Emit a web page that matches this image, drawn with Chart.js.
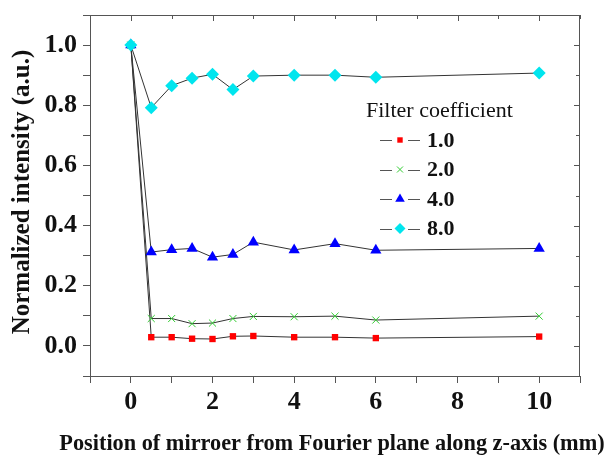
<!DOCTYPE html>
<html>
<head>
<meta charset="utf-8">
<script src="https://cdn.jsdelivr.net/npm/chart.js@4"></script>
<style>
  html, body { margin: 0; padding: 0; background: #fff; }
  #wrap { width: 611px; height: 457px; position: relative; }
</style>
</head>
<body>
<div id="wrap"><canvas id="chart" width="611" height="457"></canvas></div>
<script>
// positions along z (mm)
const positions = [0, 0.5, 1, 1.5, 2, 2.5, 3, 4, 5, 6, 10];

// normalized intensity per filter coefficient
const coef1 = [1.0, 0.029, 0.029, 0.024, 0.023, 0.032, 0.033, 0.029, 0.029, 0.026, 0.031];
const coef2 = [1.0, 0.091, 0.091, 0.074, 0.076, 0.091, 0.098, 0.097, 0.099, 0.086, 0.099];
const coef4 = [1.0, 0.312, 0.320, 0.324, 0.295, 0.304, 0.345, 0.319, 0.340, 0.318, 0.324];
const coef8 = [1.0, 0.792, 0.865, 0.890, 0.903, 0.852, 0.897, 0.900, 0.900, 0.893, 0.907];

const seriesLabels = ['1.0', '2.0', '4.0', '8.0'];
const legendTitle = 'Filter coefficient';

const xTitle = 'Position of mirroer from Fourier plane along z-axis (mm)';
const yTitle = 'Normalized intensity (a.u.)';

const serif = '"Liberation Serif", "Times New Roman", serif';

function pts(vals) {
    return positions.map((x, i) => ({ x: x, y: vals[i] }));
}

function makeSet(label, vals, color, style, radius, order) {
    return {
        label: label,
        data: pts(vals),
        order: order,
        borderColor: '#333',
        borderWidth: 1,
        backgroundColor: color,
        pointBackgroundColor: color,
        pointBorderColor: color,
        pointBorderWidth: style === 'crossRot' ? 1 : 0,
        pointStyle: style,
        pointRadius: radius,
        tension: 0,
        fill: false
    };
}

// frame with inward ticks on top/right, axis titles, legend inside the plot
const frameAndLegend = {
    id: 'frameAndLegend',
    afterDraw(chart) {
        const ctx = chart.ctx;
        const a = chart.chartArea;
        const xs = chart.scales.x, ys = chart.scales.y;
        ctx.save();
        ctx.strokeStyle = '#555';
        ctx.lineWidth = 1;
        ctx.strokeRect(a.left + 0.5, a.top + 0.5, a.right - a.left - 1, a.bottom - a.top);
        ctx.beginPath();
        xs.ticks.forEach(t => {
            const px = Math.round(xs.getPixelForValue(t.value)) + 0.5;
            const len = (t.value % 2 === 0) ? 6 : 4;
            ctx.moveTo(px, a.top);
            ctx.lineTo(px, a.top + len);
        });
        ys.ticks.forEach(t => {
            const py = Math.round(ys.getPixelForValue(t.value)) + 0.5;
            const len = (Math.round(t.value * 10) % 2 === 0) ? 6 : 4;
            ctx.moveTo(a.right, py);
            ctx.lineTo(a.right - len, py);
        });
        ctx.stroke();

        // axis titles (drawn here so they may run wider than the plot)
        ctx.fillStyle = '#111';
        ctx.textAlign = 'center';
        ctx.textBaseline = 'middle';
        ctx.font = 'bold 22.3px ' + serif;
        ctx.fillText(xTitle, 332, 444);
        ctx.save();
        ctx.translate(23, 192);
        ctx.rotate(-Math.PI / 2);
        ctx.font = 'bold 25px ' + serif;
        ctx.fillText(yTitle, 0, 0);
        ctx.restore();

        // legend
        ctx.textAlign = 'left';
        ctx.font = '22px ' + serif;
        ctx.fillText(legendTitle, 366, 111);
        chart.data.datasets.forEach((ds, i) => {
            const y = 140 + i * 29.5;
            ctx.strokeStyle = '#555';
            ctx.lineWidth = 1;
            ctx.beginPath();
            ctx.moveTo(380, Math.round(y) + 0.5); ctx.lineTo(392, Math.round(y) + 0.5);
            ctx.moveTo(408, Math.round(y) + 0.5); ctx.lineTo(420, Math.round(y) + 0.5);
            ctx.stroke();
            ctx.fillStyle = ds.pointBackgroundColor;
            ctx.strokeStyle = ds.pointBorderColor;
            ctx.lineWidth = ds.pointBorderWidth || 0;
            Chart.helpers.drawPoint(ctx, {
                pointStyle: ds.pointStyle,
                radius: ds.pointRadius * 0.85,
                borderWidth: ds.pointBorderWidth
            }, 400, y);
            ctx.fillStyle = '#111';
            ctx.font = 'bold 22px ' + serif;
            ctx.fillText(ds.label, 427, y + 1);
        });
        ctx.restore();
    }
};

const ctx = document.getElementById('chart').getContext('2d');
new Chart(ctx, {
    type: 'line',
    data: {
        datasets: [
            makeSet(seriesLabels[0], coef1, '#ff0000', 'rect', 4.5, 3),
            makeSet(seriesLabels[1], coef2, '#33cc33', 'crossRot', 5, 2),
            makeSet(seriesLabels[2], coef4, '#0000ff', 'triangle', 6.5, 1),
            makeSet(seriesLabels[3], coef8, '#00e5ee', 'rectRot', 6.5, 0)
        ]
    },
    options: {
        responsive: false,
        animation: false,
        layout: { padding: { top: 15, right: 31, left: 0, bottom: 0 } },
        plugins: {
            legend: { display: false },
            tooltip: { enabled: false }
        },
        scales: {
            x: {
                type: 'linear',
                min: -1,
                max: 11,
                border: { display: true, color: '#555', width: 1 },
                grid: { drawOnChartArea: false, tickLength: 7, color: '#555' },
                ticks: {
                    stepSize: 1,
                    autoSkip: false,
                    maxRotation: 0,
                    padding: 4,
                    color: '#111',
                    font: { family: serif, size: 26, weight: 'bold' },
                    callback: v => (v >= 0 && v <= 10 && v % 2 === 0) ? String(v) : ''
                },
                afterFit(scale) {
                    scale.height = 81;
                    scale.paddingLeft = 0;
                    scale.paddingRight = 0;
                }
            },
            y: {
                type: 'linear',
                min: -0.1,
                max: 1.1,
                border: { display: true, color: '#555', width: 1 },
                grid: { drawOnChartArea: false, tickLength: 7, color: '#555' },
                ticks: {
                    stepSize: 0.1,
                    autoSkip: false,
                    padding: 6,
                    color: '#111',
                    font: { family: serif, size: 26, weight: 'bold' },
                    callback: v => {
                        const k = Math.round(v * 10);
                        return (k >= 0 && k <= 10 && k % 2 === 0) ? (k / 10).toFixed(1) : '';
                    }
                },
                afterFit(scale) {
                    scale.width = 90;
                    scale.paddingTop = 0;
                    scale.paddingBottom = 0;
                }
            }
        }
    },
    plugins: [frameAndLegend]
});
</script>
</body>
</html>
